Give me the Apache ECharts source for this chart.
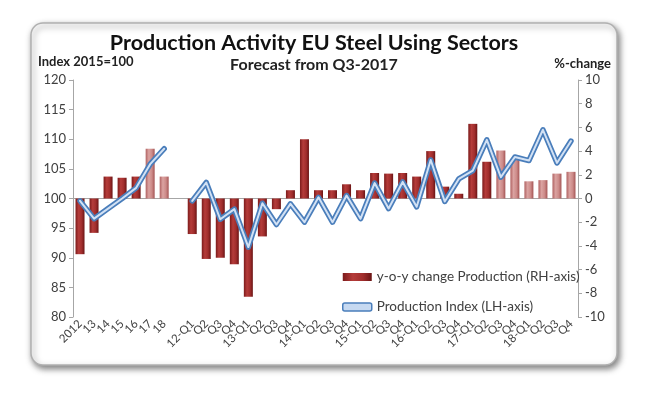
<!DOCTYPE html>
<html>
<head>
<meta charset="utf-8">
<script src="https://cdn.jsdelivr.net/npm/echarts@6/dist/echarts.min.js"></script>
<style>
html,body{margin:0;padding:0;background:#ffffff;}
#chart{width:653px;height:396px;}
</style>
</head>
<body>
<div id="chart"></div>
<script>
// ---- data ----
const categories = ['2012','13','14','15','16','17','18','',
  '12-Q1','Q2','Q3','Q4','13-Q1','Q2','Q3','Q4','14-Q1','Q2','Q3','Q4',
  '15-Q1','Q2','Q3','Q4','16-Q1','Q2','Q3','Q4','17-Q1','Q2','Q3','Q4',
  '18-Q1','Q2','Q3','Q4'];
const yoyChange = [-4.7,-2.9,1.85,1.75,1.85,4.2,1.85,null,
  -3.0,-5.1,-5.0,-5.55, -8.3,-3.2,-0.9,0.7, 5.0,0.7,0.7,1.2,
  0.7,2.15,2.1,2.15, 1.85,4.0,1.0,0.4, 6.3,3.1,4.05,3.3,
  1.45,1.55,2.1,2.25];
const productionIndex = [99.6,96.6,98.3,100.0,101.8,105.8,108.4,null,
  99.6,102.7,96.5,98.2, 91.8,99.2,95.6,99.1, 96.0,100.2,96.0,100.5,
  96.6,102.6,98.3,102.8, 98.6,106.5,99.5,103.3, 104.7,109.9,103.6,107.0,
  106.4,111.6,106.0,109.7];
// 1 = forecast (from Q3-2017)
const forecastFlags = [0,0,0,0,0,1,1,0,
  0,0,0,0, 0,0,0,0, 0,0,0,0,
  0,0,0,0, 0,0,0,0, 0,0,1,1,
  1,1,1,1];
const leftTicks = {min:80, max:120, interval:5};
const rightTicks = {min:-10, max:10, interval:2};
const barName = 'y-o-y change Production (RH-axis)';
const lineName = 'Production Index (LH-axis)';

// ---- styles ----
const FONT = 'Lato, "Open Sans", sans-serif';
const txt = '#404040';
const actualGrad = new echarts.graphic.LinearGradient(0,0,1,0,[
  {offset:0,color:'#7c1b1b'},{offset:0.35,color:'#b53c3a'},
  {offset:0.7,color:'#a02d2c'},{offset:1,color:'#6a1414'}]);
const forecastGrad = new echarts.graphic.LinearGradient(0,0,1,0,[
  {offset:0,color:'#b06262'},{offset:0.35,color:'#dba3a1'},
  {offset:0.7,color:'#cc8a88'},{offset:1,color:'#a45454'}]);

const chart = echarts.init(document.getElementById('chart'), null, {renderer:'canvas'});
chart.setOption({
  animation:false,
  backgroundColor:'#ffffff',
  textStyle:{fontFamily:FONT},
  graphic:[
    {type:'rect', z:-10, shape:{x:31,y:23,width:586,height:342,r:12},
     style:{fill:'#ffffff', stroke:'#b0b0b0', lineWidth:1.5,
       shadowBlur:6, shadowOffsetX:2, shadowOffsetY:3, shadowColor:'rgba(0,0,0,0.5)'}},
    {type:'text', x:314, y:32, style:{text:'Production Activity EU Steel Using Sectors',
       font:'bold 21.5px '+FONT, fill:'#111', align:'center', verticalAlign:'top'}},
    {type:'text', x:314, y:57, style:{text:'Forecast from Q3-2017',
       font:'bold 16px '+FONT, fill:'#222', align:'center', verticalAlign:'top'}},
    {type:'text', x:38, y:55, style:{text:'Index 2015=100', font:'bold 13px '+FONT, fill:'#222', verticalAlign:'top'}},
    {type:'text', x:611, y:57, style:{text:'%-change', font:'bold 13px '+FONT, fill:'#222', align:'right', verticalAlign:'top'}}
  ],
  grid:{left:73, right:75, top:80, bottom:79, containLabel:false},
  legend:{
    orient:'vertical', left:337, top:265, itemGap:16, itemWidth:29, itemHeight:8,
    textStyle:{fontSize:13.5, color:txt, fontFamily:FONT},
    data:[
      {name:barName, icon:'rect', itemStyle:{color:actualGrad}},
      {name:lineName, icon:'roundRect', itemStyle:{color:'#c6d9f1', borderColor:'#4a7ebb', borderWidth:1.5}}
    ]
  },
  xAxis:{
    type:'category', data:categories, boundaryGap:true,
    axisLine:{lineStyle:{color:'#a6a6a6'}},
    axisTick:{show:false},
    axisLabel:{interval:0, rotate:45, fontSize:11.5, color:txt, margin:5}
  },
  yAxis:[
    {type:'value', position:'left', min:leftTicks.min, max:leftTicks.max, interval:leftTicks.interval,
     splitLine:{show:false},
     axisLine:{show:true, lineStyle:{color:'#a6a6a6'}},
     axisTick:{show:true, inside:false, length:4, lineStyle:{color:'#a6a6a6'}},
     axisLabel:{fontSize:13, color:txt, margin:7}},
    {type:'value', position:'right', min:rightTicks.min, max:rightTicks.max, interval:rightTicks.interval,
     splitLine:{show:false},
     axisLine:{show:true, lineStyle:{color:'#a6a6a6'}},
     axisTick:{show:true, inside:false, length:4, lineStyle:{color:'#a6a6a6'}},
     axisLabel:{fontSize:13, color:txt, margin:7}}
  ],
  series:[
    {name:barName, type:'bar', yAxisIndex:1, barWidth:9,
     data:yoyChange,
     itemStyle:{color:(p)=> forecastFlags[p.dataIndex] ? forecastGrad : actualGrad}},
    {name:lineName, type:'line', yAxisIndex:0, data:productionIndex,
     showSymbol:false, symbol:'none', connectNulls:false, z:3,
     lineStyle:{width:5.5, color:'#4a7ebb', join:'round', cap:'round'},
     itemStyle:{color:'#4a7ebb'}},
    {name:lineName, type:'line', yAxisIndex:0, data:productionIndex,
     showSymbol:false, symbol:'none', connectNulls:false, z:4,
     lineStyle:{width:2, color:'#d2e1f4', join:'round', cap:'round'},
     itemStyle:{color:'#d2e1f4'}}
  ]
});
</script>
</body>
</html>
